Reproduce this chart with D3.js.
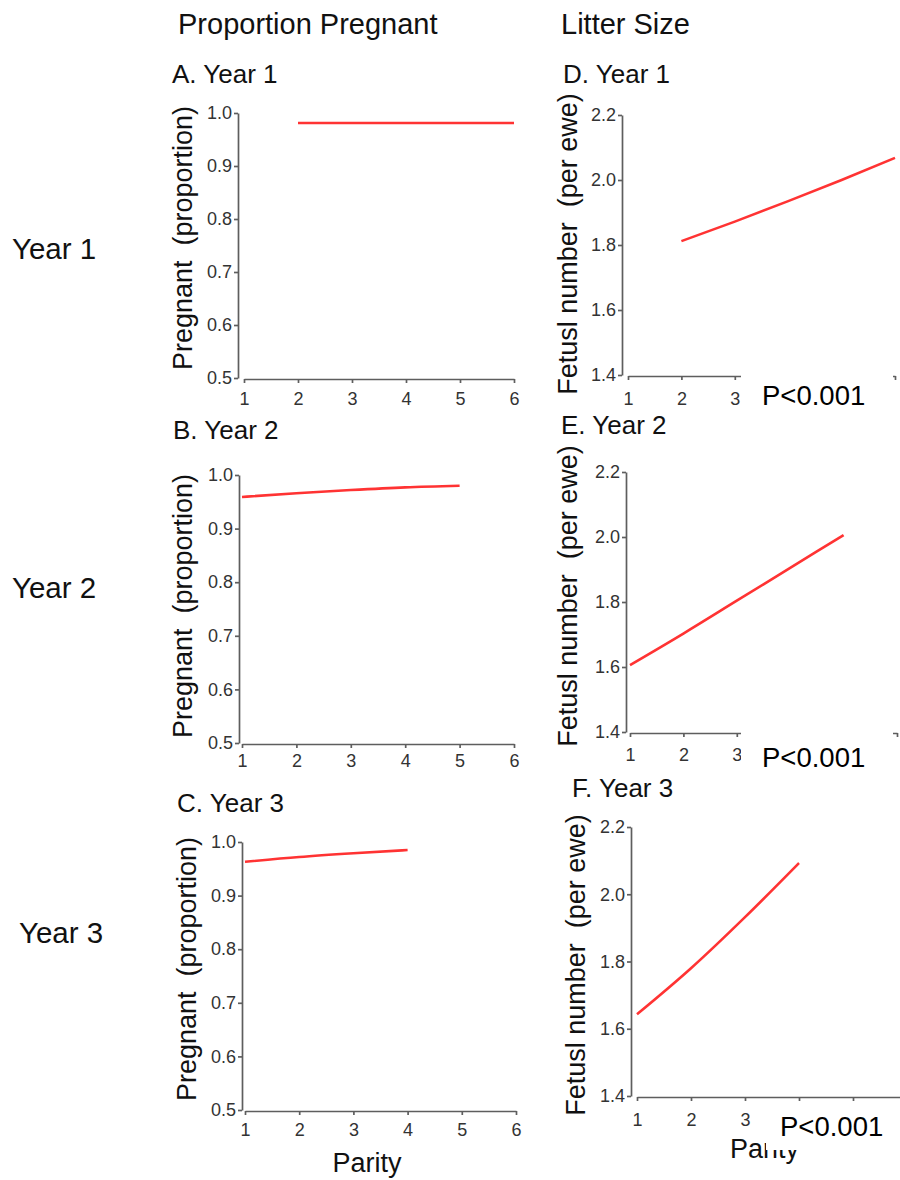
<!DOCTYPE html>
<html>
<head>
<meta charset="UTF-8">
<title>Proportion pregnant and litter size by parity</title>
<style>
    body { margin: 0; background: #fff; }
    svg { font-family: Arial, "Liberation Sans", sans-serif; }
    .axis path, .axis line { stroke: #5e5e5e; stroke-width: 1.7px; }
    .axis text { fill: #333; font-size: 18px; font-family: Arial, "Liberation Sans", sans-serif; }
    .fit { fill: none; stroke: #ff3333; stroke-width: 2.6px; }
    .head { fill: #111; font-size: 29px; }
    .row { fill: #111; font-size: 29.5px; }
    .ptitle { fill: #111; font-size: 26px; }
    .ylab { fill: #111; font-size: 27px; white-space: pre; }
    .pval { fill: #000; font-size: 27.5px; }
</style>
</head>
<body>
<svg width="900" height="1180"></svg>
<script src="https://cdn.jsdelivr.net/npm/d3@7/dist/d3.min.js"></script>
<script>

    // tick values
    var parityTicks = [1, 2, 3, 4, 5, 6];
    var pregTicks = [0.5, 0.6, 0.7, 0.8, 0.9, 1.0];
    var litterTicks = [1.4, 1.6, 1.8, 2.0, 2.2];

    // proportion pregnant (fitted)
    var parityA = [2, 3, 4, 5, 6];
    var pregA = [0.981, 0.981, 0.981, 0.981, 0.981];
    var parityB = [1, 2, 3, 4, 5];
    var pregB = [0.959, 0.966, 0.972, 0.977, 0.980];
    var parityC = [1, 2, 3, 4];
    var pregC = [0.963, 0.972, 0.979, 0.985];

    // litter size (fitted)
    var parityD = [2, 3, 4, 5, 6];
    var litterD = [1.812, 1.872, 1.935, 2.000, 2.068];
    var parityE = [1, 2, 3, 4, 5];
    var litterE = [1.606, 1.703, 1.804, 1.905, 2.006];
    var parityF = [1, 2, 3, 4];
    var litterF = [1.643, 1.780, 1.932, 2.093];

    var svg = d3.select("svg");

    // column and row headings
    svg.append("text").attr("class", "head").attr("x", 178).attr("y", 34).text("Proportion Pregnant");
    svg.append("text").attr("class", "head").attr("x", 561).attr("y", 34).text("Litter Size");
    svg.append("text").attr("class", "row").attr("x", 12).attr("y", 259).text("Year 1");
    svg.append("text").attr("class", "row").attr("x", 12).attr("y", 598).text("Year 2");
    svg.append("text").attr("class", "row").attr("x", 19).attr("y", 943).text("Year 3");

    // lastLabel: highest parity whose tick label is not hidden by the pasted P box
    var panels = [
        {title: "A. Year 1", tx: 172, ty: 83, x1: 244, x6: 514, top: 113, bot: 378, gap: 6, pad: 9, lastLabel: 6,
            dom: [0.5, 1.0], ticks: pregTicks, lab: "Pregnant  (proportion)", lx: 192, ly: 238, px: parityA, py: pregA},
        {title: "B. Year 2", tx: 173, ty: 439, x1: 242, x6: 514, top: 475, bot: 743, gap: 3, pad: 6, lastLabel: 6,
            dom: [0.5, 1.0], ticks: pregTicks, lab: "Pregnant  (proportion)", lx: 192, ly: 606, px: parityB, py: pregB},
        {title: "C. Year 3", tx: 177, ty: 812, x1: 245, x6: 516, top: 842, bot: 1110, gap: 3, pad: 8, lastLabel: 6,
            dom: [0.5, 1.0], ticks: pregTicks, lab: "Pregnant  (proportion)", lx: 196, ly: 969, px: parityC, py: pregC},
        {title: "D. Year 1", tx: 563, ty: 83, x1: 628, x6: 895, top: 115, bot: 375, gap: 6, pad: 12, lastLabel: 3,
            dom: [1.4, 2.2], ticks: litterTicks, lab: "Fetusl number  (per ewe)", lx: 577, ly: 244, px: parityD, py: litterD},
        {title: "E. Year 2", tx: 561, ty: 434, x1: 630, x6: 897, top: 472, bot: 732, gap: 4, pad: 11, lastLabel: 3,
            dom: [1.4, 2.2], ticks: litterTicks, lab: "Fetusl number  (per ewe)", lx: 577, ly: 596, px: parityE, py: litterE},
        {title: "F. Year 3", tx: 572, ty: 797, x1: 637, x6: 907, top: 827, bot: 1096, gap: 6, pad: 12, lastLabel: 3,
            dom: [1.4, 2.2], ticks: litterTicks, lab: "Fetusl number  (per ewe)", lx: 585, ly: 965, px: parityF, py: litterF}
    ];

    panels.forEach(function (p) {
        var x = d3.scaleLinear().domain([1, 6]).range([p.x1, p.x6]);
        var y = d3.scaleLinear().domain(p.dom).range([p.bot, p.top]);

        svg.append("text").attr("class", "ptitle").attr("x", p.tx).attr("y", p.ty).text(p.title);

        svg.append("g")
            .attr("class", "axis")
            .attr("transform", "translate(" + (p.x1 - p.gap) + ",0)")
            .call(d3.axisLeft(y).tickValues(p.ticks).tickFormat(d3.format(".1f"))
                .tickSize(4).tickSizeOuter(0).tickPadding(2));

        var xg = svg.append("g")
            .attr("class", "axis")
            .attr("transform", "translate(0," + (p.bot + 1) + ")")
            .call(d3.axisBottom(x).tickValues(parityTicks).tickFormat(d3.format("d"))
                .tickSize(4).tickSizeOuter(0).tickPadding(p.pad));
        xg.selectAll(".tick text").filter(function (d) { return d > p.lastLabel; }).remove();

        svg.append("text")
            .attr("class", "ylab")
            .attr("text-anchor", "middle")
            .attr("transform", "translate(" + p.lx + "," + p.ly + ") rotate(-90)")
            .text(p.lab);

        var line = d3.line()
            .x(function (d, i) { return x(p.px[i]); })
            .y(function (d) { return y(d); })
            .curve(d3.curveMonotoneX);

        svg.append("path").datum(p.py).attr("class", "fit").attr("d", line);
    });

    svg.append("text").attr("class", "ylab").attr("text-anchor", "middle")
        .attr("x", 367).attr("y", 1172).text("Parity");
    svg.append("text").attr("class", "ylab").attr("x", 730).attr("y", 1158).text("Parity");

    // pasted white boxes with the P values
    var boxes = [
        {x: 741, y: 369, w: 152, h: 48, tx: 762, ty: 405},
        {x: 741, y: 727, w: 152, h: 48, tx: 762, ty: 767},
        {x: 766, y: 1103, w: 134, h: 47, tx: 780, ty: 1136}
    ];
    boxes.forEach(function (b) {
        svg.append("rect").attr("x", b.x).attr("y", b.y).attr("width", b.w).attr("height", b.h).attr("fill", "#fff");
        svg.append("text").attr("class", "pval").attr("x", b.tx).attr("y", b.ty).text("P<0.001");
    });

</script>
</body>
</html>
